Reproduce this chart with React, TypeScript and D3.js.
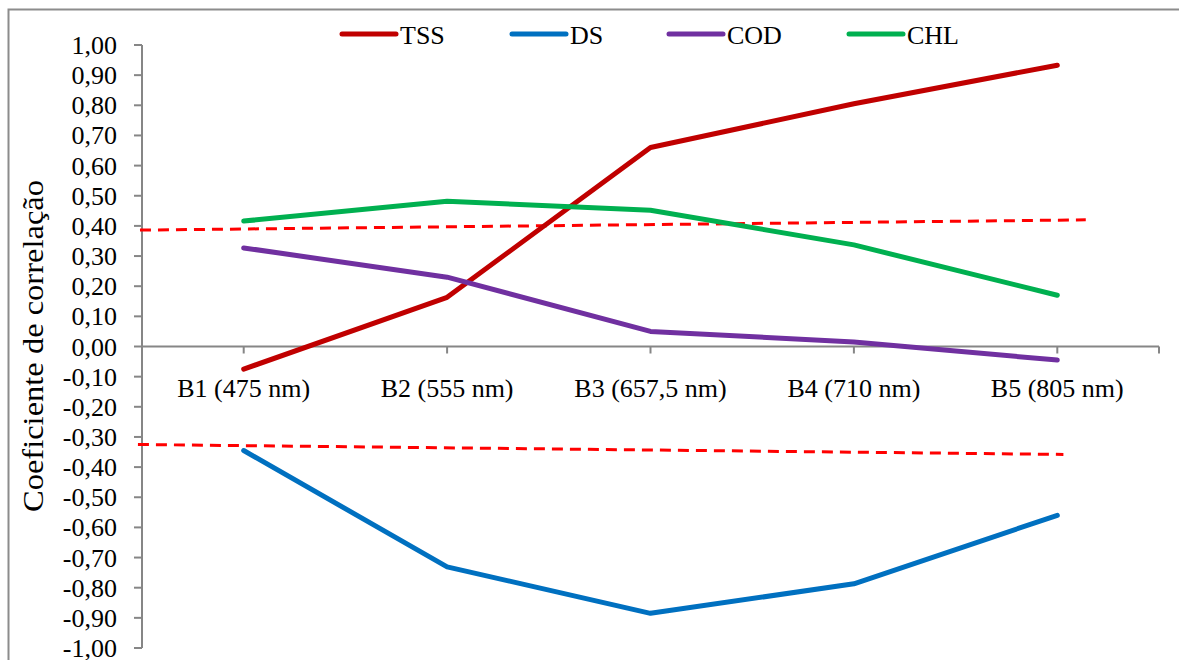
import React from "react";
import * as d3 from "d3";

// bands on the x axis
const bands = ["B1 (475 nm)", "B2 (555 nm)", "B3 (657,5 nm)", "B4 (710 nm)", "B5 (805 nm)"];

// correlation per parameter
const tss = [-0.075, 0.163, 0.66, 0.805, 0.933];
const ds = [-0.345, -0.731, -0.885, -0.787, -0.56];
const cod = [0.327, 0.23, 0.05, 0.015, -0.045];
const chl = [0.416, 0.482, 0.452, 0.337, 0.17];

const seriesNames = ["TSS", "DS", "COD", "CHL"];
const seriesColors = ["#C00000", "#0070C0", "#7030A0", "#00B050"];

// significance thresholds (dashed), start/end as [band position, value]
const upperThreshold: [number, number][] = [[-0.51, 0.386], [4.14, 0.42]];
const lowerThreshold: [number, number][] = [[-0.52, -0.325], [4.03, -0.358]];

const yTicks = d3.range(-10, 11).map((d) => d / 10);

const W = 1179;
const H = 660;
const axisGray = "#868686";
const txt = { fontFamily: '"Liberation Serif"' };

const App = () => {
  const left = 142;
  const right = 1159;
  const top = 45;
  const bottom = 648;

  const x = d3.scaleBand<string>().domain(bands).range([left, right]);
  const bw = x.bandwidth();
  // continuous position in band units, 0 = centre of first band
  const xc = (i: number) => left + bw / 2 + i * bw;
  const y = d3.scaleLinear().domain([-1, 1]).range([bottom, top]);

  const line = d3
    .line<number>()
    .x((_, i) => xc(i))
    .y((d) => y(d));

  const dashLine = d3
    .line<[number, number]>()
    .x((d) => xc(d[0]))
    .y((d) => y(d[1]));

  const allSeries = [tss, ds, cod, chl];
  const fmt = (v: number) => v.toFixed(2).replace(".", ",").replace("-0,00", "0,00");

  // legend entry starts
  const legendX = [342, 512, 669, 849];

  return (
    <svg width={W} height={H} style={{ position: "absolute", left: 0, top: 0, background: "#fff" }}>
      {/* chart frame */}
      <rect x={8.5} y={9.5} width={W + 20} height={H + 20} fill="none" stroke="#8c8c8c" strokeWidth={2} />

      {/* y axis */}
      <line x1={left} x2={left} y1={top} y2={bottom} stroke={axisGray} strokeWidth={2} />
      {yTicks.map((t) => (
        <g key={t}>
          <line x1={left - 8} x2={left} y1={y(t)} y2={y(t)} stroke={axisGray} strokeWidth={2} />
          <text x={117} y={y(t) + 9} textAnchor="end" fontSize={26} fill="#000" style={txt}>
            {fmt(t)}
          </text>
        </g>
      ))}

      {/* x axis at zero */}
      <line x1={left} x2={right} y1={y(0)} y2={y(0)} stroke={axisGray} strokeWidth={2} />
      {bands.map((b, i) => (
        <g key={b}>
          <line x1={xc(i)} x2={xc(i)} y1={y(0)} y2={y(0) + 7} stroke={axisGray} strokeWidth={2} />
          <text x={xc(i)} y={397} textAnchor="middle" fontSize={26} fill="#000" style={txt}>
            {b}
          </text>
        </g>
      ))}
      <line x1={right} x2={right} y1={y(0)} y2={y(0) + 7} stroke={axisGray} strokeWidth={2} />

      {/* threshold lines */}
      {[upperThreshold, lowerThreshold].map((d, i) => (
        <path key={i} d={dashLine(d) || ""} fill="none" stroke="#FF0000" strokeWidth={3} strokeDasharray="11 7" />
      ))}

      {/* series */}
      {allSeries.map((s, i) => (
        <path
          key={seriesNames[i]}
          d={line(s) || ""}
          fill="none"
          stroke={seriesColors[i]}
          strokeWidth={5}
          strokeLinecap="round"
          strokeLinejoin="round"
        />
      ))}

      {/* legend */}
      {seriesNames.map((n, i) => (
        <g key={n}>
          <line
            x1={legendX[i]}
            x2={legendX[i] + 54}
            y1={34}
            y2={34}
            stroke={seriesColors[i]}
            strokeWidth={5}
            strokeLinecap="round"
          />
          <text x={legendX[i] + 58} y={44} fontSize={26} fill="#000" style={txt}>
            {n}
          </text>
        </g>
      ))}

      {/* y axis title */}
      <text
        transform={`translate(43, 346) rotate(-90)`}
        textAnchor="middle"
        fontSize={30}
        textLength={332}
        lengthAdjust="spacingAndGlyphs"
        fill="#000"
        style={txt}
      >
        Coeficiente de correlação
      </text>
    </svg>
  );
};

export default App;
